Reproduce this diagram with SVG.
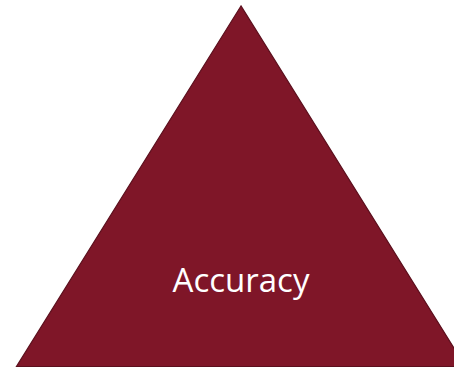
<svg xmlns="http://www.w3.org/2000/svg" width="454" height="368" viewBox="0 0 454 368">
<style>
.tri{fill:#7f1628;stroke:#5c0f1d;stroke-width:1.2}
.lbl{font-family:"Open Sans","Noto Sans","Liberation Sans",sans-serif;font-size:33px;fill:#ffffff}
</style>
<rect width="454" height="368" fill="#ffffff"/>
<g id="triangle">
<polygon class="tri" points="241,6 16.5,366.5 465.5,366.5"/>
<text class="lbl" x="241" y="292" text-anchor="middle">Accuracy</text>
</g>
</svg>
